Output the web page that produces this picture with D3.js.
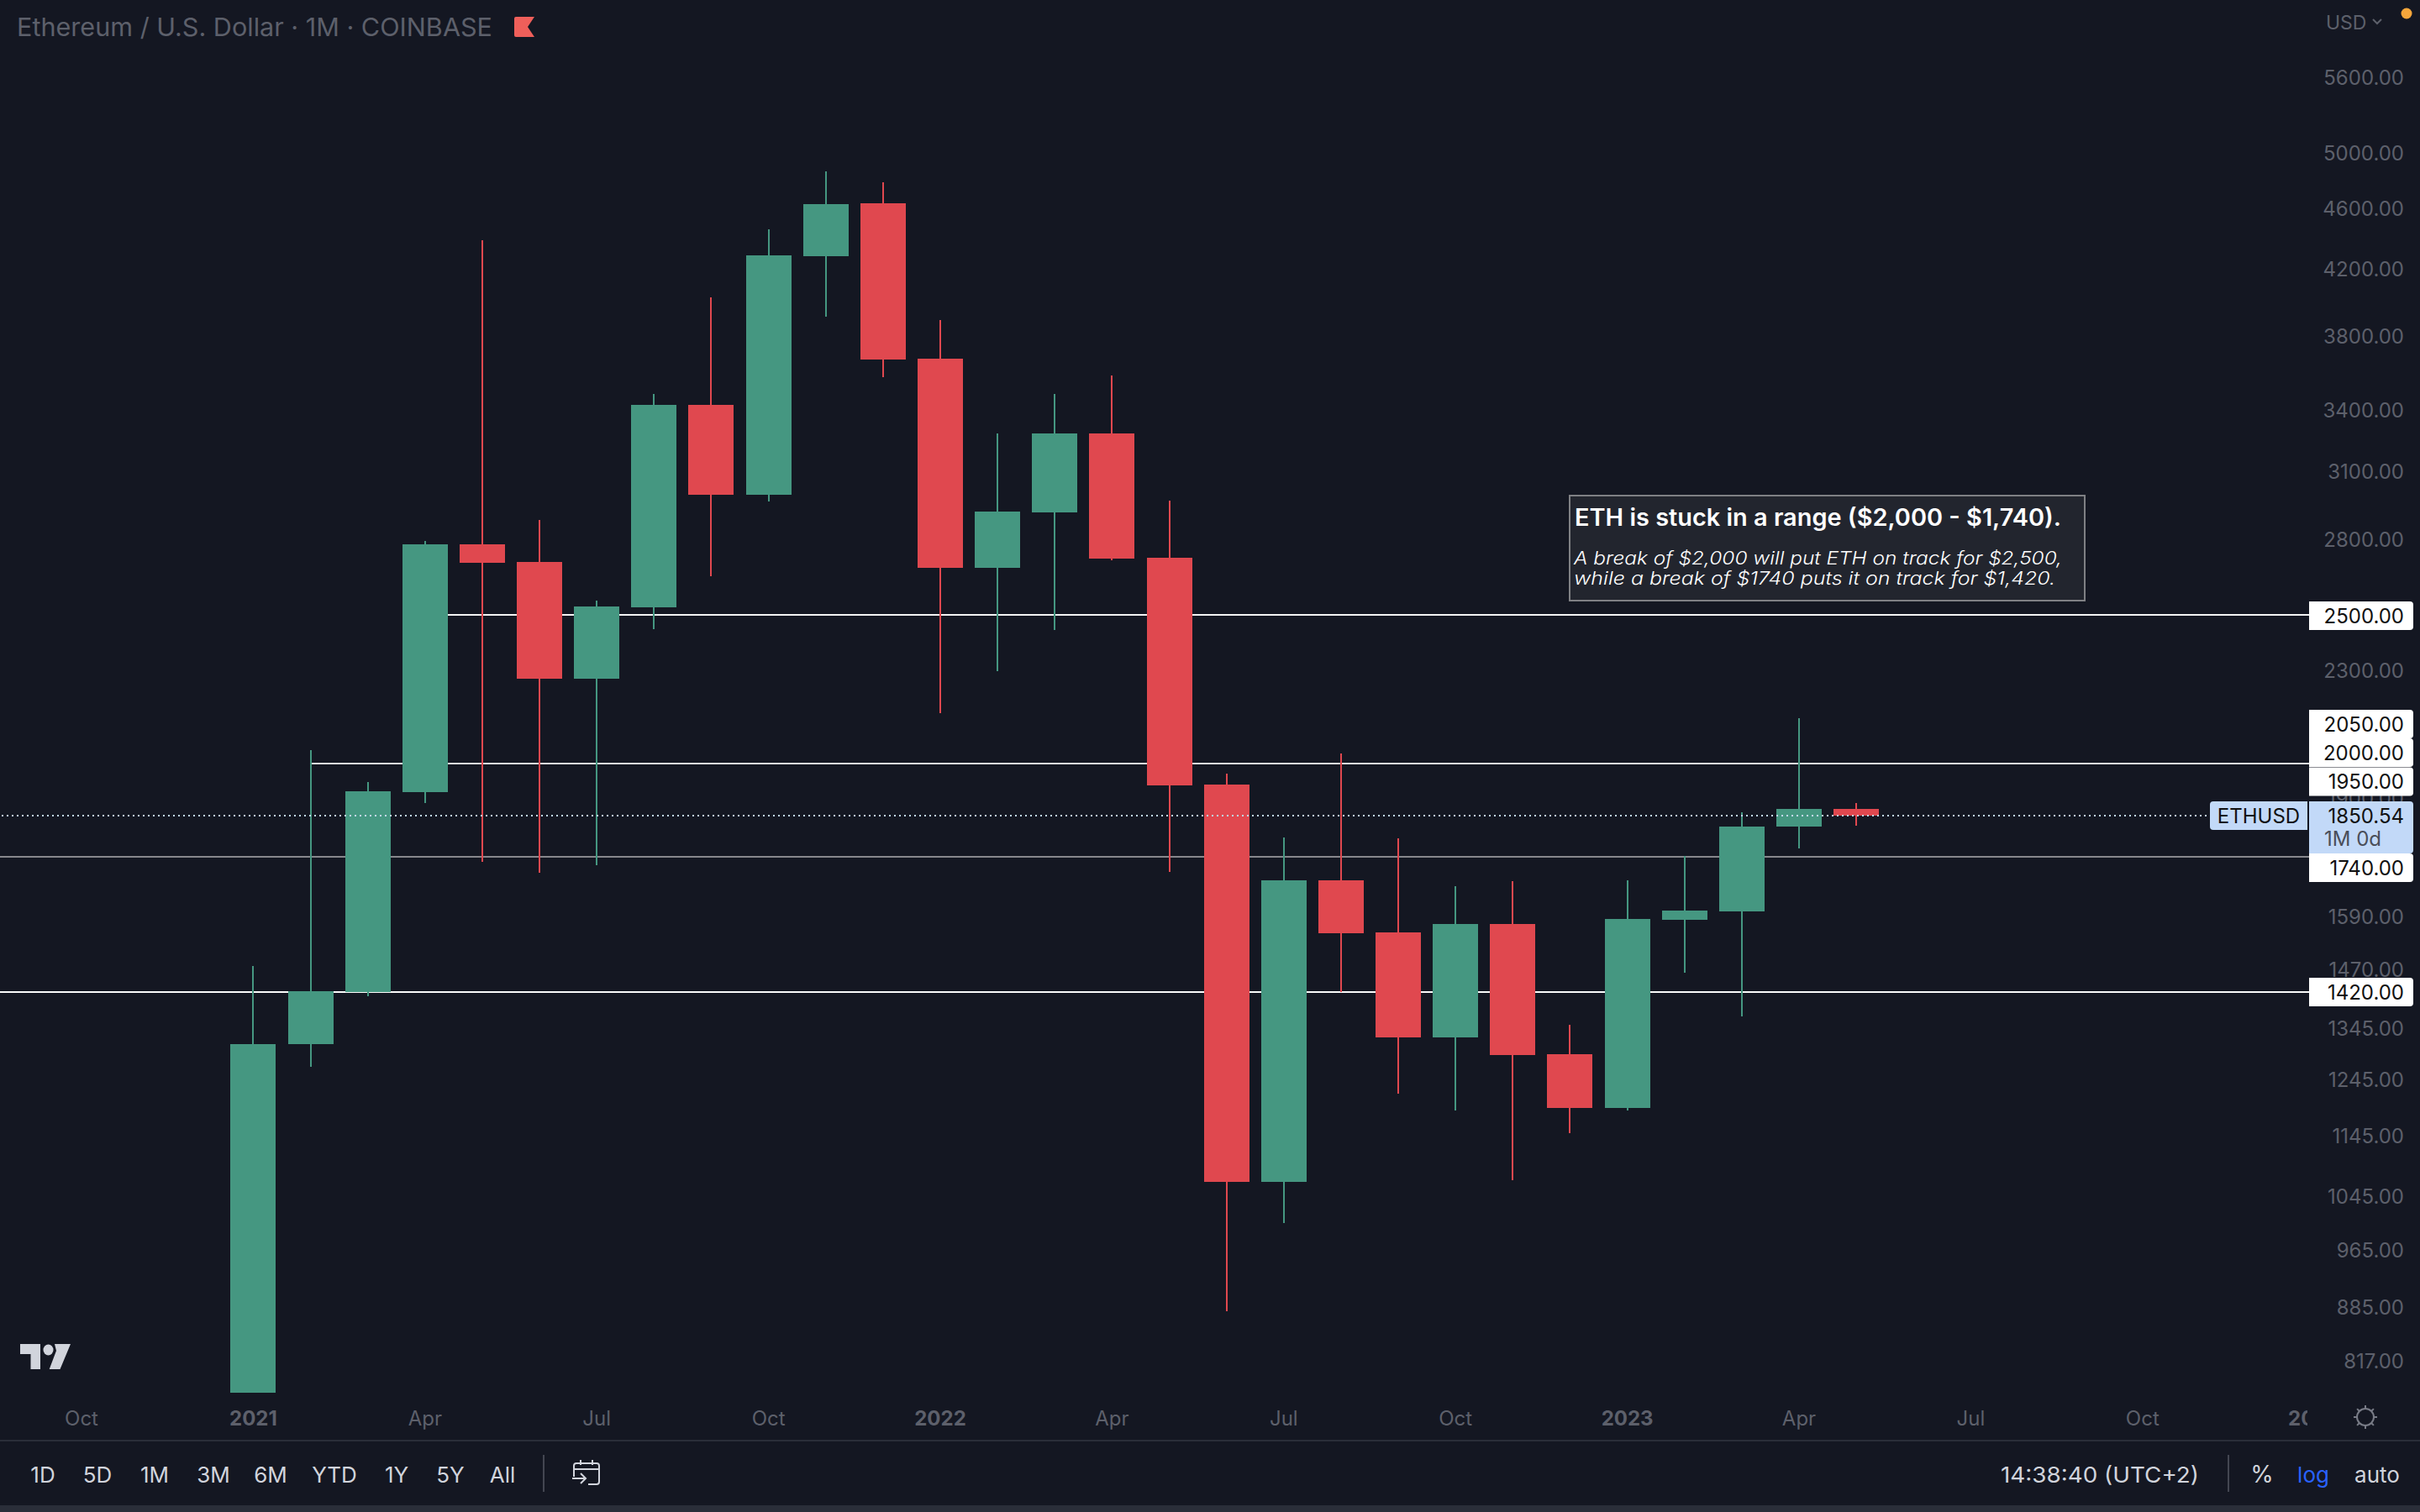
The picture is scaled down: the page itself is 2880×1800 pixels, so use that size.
<!DOCTYPE html>
<html><head><meta charset="utf-8">
<script src="https://cdnjs.cloudflare.com/ajax/libs/d3/7.8.5/d3.min.js"></script>
<style>
html,body{margin:0;padding:0;background:#141722;overflow:hidden}
svg{display:block}
text{font-family:Inter,"Noto Sans",sans-serif}
</style></head><body>
<svg id="c" width="2880" height="1800"></svg>
<script>
const monthIdx = d3.range(0, 29);
const opens  = [779,1313,1420,1917,2779,2708,2272,2529,3426,2994,4282,4636,3672,2683,2916,3282,2724,1939,1068,1679,1553,1327,1572,1294,1193,1583,1603,1820,1869];
const highs  = [1477,2041,1946,2792,4383,2883,2554,3483,4026,4458,4863,4784,3891,3282,3483,3580,2968,1970,1790,2031,1788,1664,1677,1352,1679,1741,1860,2142,1886];
const lows   = [779,1269,1411,1886,1727,1699,1718,2446,2650,2964,3911,3571,2157,2298,2444,2714,1700,880,1004,1420,1219,1189,1071,1149,1189,1462,1369,1761,1822];
const closes = [1313,1421,1919,2779,2702,2272,2532,3426,2994,4287,4630,3668,2683,2920,3282,2721,1937,1068,1679,1551,1327,1572,1292,1193,1585,1605,1820,1869,1850.54];
const priceTicks = [5600,5000,4600,4200,3800,3400,3100,2800,2300,1900,1590,1470,1345,1245,1145,1045,965,885,817];
const timeTickIdx = [-3,0,3,6,9,12,15,18,21,24,27,30,33,36];
const timeTickLabels = ["Oct","2021","Apr","Jul","Oct","2022","Apr","Jul","Oct","2023","Apr","Jul","Oct","2024"];
const boldTicks = ["2021","2022","2023","2024"];
const levelPrices = [2500,2000,1740,1420];
const levelStartIdx = [3,1,-5,-5];
const levelColors = ["#f4f4f4","#e2e2e2","#87878c","#fafafa"];
const badgePrices = [2500,2050,2000,1950,1740,1420];
const lastPrice = 1850.54;
const rangeButtons = ["1D","5D","1M","3M","6M","YTD","1Y","5Y","All"];
const rangeButtonX = [51,116,184,254,322,398,472,536,598];

const svg = d3.select("#c");
const up="#459781", down="#e0484f";
const y = d3.scaleLog().domain([6288,776.6]).range([0,1660]);
const x = d3.scaleLinear().domain([0,27]).range([301.4,2141]);
const bw = 54;
const X = i=>Math.round(x(i)), Y = p=>Math.round(y(p));

svg.append("rect").attr("width",2880).attr("height",1800).attr("fill","#141722");

const defs = svg.append("defs");
defs.append("clipPath").attr("id","plot").append("rect").attr("width",2746).attr("height",1714);

// y ticks
const yAxis = d3.axisRight(y).tickValues(priceTicks).tickSize(0).tickFormat(d3.format(".2f"));
const ga = svg.append("g").attr("transform","translate(2861,0)").call(yAxis);
ga.select(".domain").remove();
ga.selectAll("text").attr("x",0).attr("dy",0).attr("text-anchor","end").attr("dominant-baseline","central")
  .attr("font-size",24).attr("fill","#5d606b").attr("style","font-family:Inter,sans-serif");

// x ticks
defs.append("clipPath").attr("id","xc").append("rect").attr("width",2746).attr("height",1800);
const gx = svg.append("g").attr("clip-path","url(#xc)");
gx.selectAll("text").data(timeTickIdx).join("text")
  .attr("x",d=>x(d)).attr("y",1688).attr("text-anchor","middle").attr("dominant-baseline","central")
  .attr("font-size",24).attr("fill","#5d606b")
  .attr("font-weight",(d,i)=>boldTicks.includes(timeTickLabels[i])?700:400)
  .text((d,i)=>timeTickLabels[i]);

// levels
const gl = svg.append("g");
gl.selectAll("line").data(levelPrices).join("line")
  .attr("x1",(d,i)=>Math.max(0,X(levelStartIdx[i]))).attr("x2",2748)
  .attr("y1",d=>Y(d)).attr("y2",d=>Y(d))
  .attr("stroke",(d,i)=>levelColors[i]).attr("stroke-width",2);

// wicks + bodies
const g = svg.append("g").attr("clip-path","url(#plot)");
const col = i=> closes[i]>=opens[i]?up:down;
g.selectAll("line").data(monthIdx).join("line")
  .attr("x1",X).attr("x2",X).attr("y1",i=>Y(highs[i])).attr("y2",i=>Y(lows[i]))
  .attr("stroke",col).attr("stroke-width",2);
g.selectAll("rect").data(monthIdx).join("rect")
  .attr("x",i=>X(i)-bw/2).attr("width",bw)
  .attr("y",i=>Y(Math.max(opens[i],closes[i])))
  .attr("height",i=>Math.abs(Y(opens[i])-Y(closes[i])))
  .attr("fill",col);

// last price dotted
svg.append("line").attr("x1",2).attr("x2",2630).attr("y1",Y(lastPrice)).attr("y2",Y(lastPrice))
  .attr("stroke","#c2d9f8").attr("stroke-width",2).attr("stroke-dasharray","2 4");

// annotation
const ann = svg.append("g");
ann.append("rect").attr("x",1868).attr("y",590).attr("width",613).attr("height",125)
  .attr("fill","#22252e").attr("stroke","#7f8084").attr("stroke-width",2);
ann.append("text").attr("x",1874).attr("y",626).attr("font-size",28).attr("font-weight",600).attr("fill","#fff")
  .attr("textLength",579).attr("lengthAdjust","spacingAndGlyphs").text("ETH is stuck in a range ($2,000 - $1,740).");
ann.append("text").attr("x",1873).attr("y",672).attr("font-size",22).attr("font-style","italic").attr("font-weight",300).attr("fill","#fff")
  .attr("textLength",581).attr("lengthAdjust","spacingAndGlyphs").text("A break of $2,000 will put ETH on track for $2,500,");
ann.append("text").attr("x",1873).attr("y",696).attr("font-size",22).attr("font-style","italic").attr("font-weight",300).attr("fill","#fff")
  .attr("textLength",573).attr("lengthAdjust","spacingAndGlyphs").text("while a break of $1740 puts it on track for $1,420.");

// price badges
function badge(px, h, fill){
  return svg.append("path").attr("fill",fill)
   .attr("d",`M2748 ${px} H2868 a4 4 0 0 1 4 4 V${px+h-4} a4 4 0 0 1 -4 4 H2748 Z`);
}
const badgeTop = {2500:716,2050:845,2000:879,1950:913.5,1740:1016,1420:1164};
badge(954,62,"#c2d9f8");
badgePrices.forEach(p=>{
  const t=badgeTop[p]; badge(t,34,"#ffffff");
  svg.append("text").attr("x",2861).attr("y",t+17).attr("text-anchor","end").attr("dominant-baseline","central")
    .attr("font-size",24).attr("fill","#111").text(d3.format(".2f")(p));
});
svg.append("text").attr("x",2861).attr("y",971).attr("text-anchor","end").attr("dominant-baseline","central")
  .attr("font-size",24).attr("fill","#111").text(d3.format(".2f")(lastPrice));
svg.append("text").attr("x",2766).attr("y",998).attr("dominant-baseline","central")
  .attr("font-size",24).attr("fill","#4a4e59").text("1M 0d");
svg.append("path").attr("fill","#c2d9f8").attr("d","M2746 954 V988 H2634 a4 4 0 0 1 -4 -4 V958 a4 4 0 0 1 4 -4 Z");
svg.append("text").attr("x",2688).attr("y",971).attr("text-anchor","middle").attr("dominant-baseline","central")
  .attr("font-size",24).attr("fill","#111").text("ETHUSD");

// header
svg.append("text").attr("x",20).attr("y",43).attr("font-size",30).attr("fill","#5d606b")
  .attr("textLength",566).attr("lengthAdjust","spacingAndGlyphs").text("Ethereum / U.S. Dollar · 1M · COINBASE");
svg.append("path").attr("fill","#ef5f5a").attr("d","M614 20 H636 L628 32 L636 44 H614 a2 2 0 0 1 -2 -2 V22 a2 2 0 0 1 2 -2 Z");
svg.append("text").attr("x",2768).attr("y",27).attr("dominant-baseline","central").attr("font-size",23).attr("fill","#5d606b").text("USD");
svg.append("path").attr("fill","none").attr("stroke","#5d606b").attr("stroke-width",2).attr("d","M2824 23 L2829 28 L2834 23");
svg.append("circle").attr("cx",2864).attr("cy",16).attr("r",6.5).attr("fill","#f5a63b");

// logo
svg.append("path").attr("fill","#d1d4dc").attr("d","M24 1600 H48 V1630 H36.5 V1612 H24 Z");
svg.append("ellipse").attr("cx",57.5).attr("cy",1607).attr("rx",6).attr("ry",6.5).attr("fill","#d1d4dc");
svg.append("path").attr("fill","#d1d4dc").attr("d","M65 1600 H84 L71.5 1630 H58.7 L67 1608 Z");

// bottom bar
svg.append("line").attr("x1",0).attr("x2",2880).attr("y1",1715).attr("y2",1715).attr("stroke","#2a2e39").attr("stroke-width",2);
svg.append("rect").attr("x",0).attr("y",1792).attr("width",2880).attr("height",8).attr("fill","#2a2e39");
svg.selectAll("text.rb").data(rangeButtons).join("text").attr("class","rb")
  .attr("x",(d,i)=>rangeButtonX[i]).attr("y",1755).attr("text-anchor","middle").attr("dominant-baseline","central")
  .attr("font-size",26).attr("fill","#d1d4dc").text(d=>d);
svg.append("line").attr("x1",647).attr("x2",647).attr("y1",1732).attr("y2",1776).attr("stroke","#434651").attr("stroke-width",2);
svg.append("line").attr("x1",2652).attr("x2",2652).attr("y1",1732).attr("y2",1776).attr("stroke","#434651").attr("stroke-width",2);
// calendar icon
svg.append("path").attr("fill","none").attr("stroke","#d1d4dc").attr("stroke-width",2)
 .attr("d","M683 1758 V1745 a3 3 0 0 1 3 -3 H710 a3 3 0 0 1 3 3 V1764 a3 3 0 0 1 -3 3 H700 M683 1749 H713 M691 1738 V1744 M705 1738 V1744 M681 1760 H696 M691 1754 L697 1760 L691 1766");
svg.append("text").attr("x",2381).attr("y",1755).attr("dominant-baseline","central").attr("font-size",26).attr("fill","#d1d4dc")
  .attr("textLength",236).attr("lengthAdjust","spacingAndGlyphs").text("14:38:40 (UTC+2)");
svg.append("text").attr("x",2692).attr("y",1755).attr("text-anchor","middle").attr("dominant-baseline","central").attr("font-size",28).attr("fill","#d1d4dc").text("%");
svg.append("text").attr("x",2753).attr("y",1755).attr("text-anchor","middle").attr("dominant-baseline","central").attr("font-size",26).attr("fill","#2962ff").text("log");
svg.append("text").attr("x",2829).attr("y",1755).attr("text-anchor","middle").attr("dominant-baseline","central").attr("font-size",26).attr("fill","#d1d4dc").text("auto");
// sun icon
const sun = svg.append("g").attr("transform","translate(2815,1687)").attr("stroke","#787b86").attr("stroke-width",2).attr("fill","none");
sun.append("circle").attr("r",10);
d3.range(0,8).forEach(k=>{const a=k*Math.PI/4;
  sun.append("line").attr("x1",Math.cos(a)*10).attr("y1",Math.sin(a)*10).attr("x2",Math.cos(a)*14).attr("y2",Math.sin(a)*14);});
</script>
</body></html>
